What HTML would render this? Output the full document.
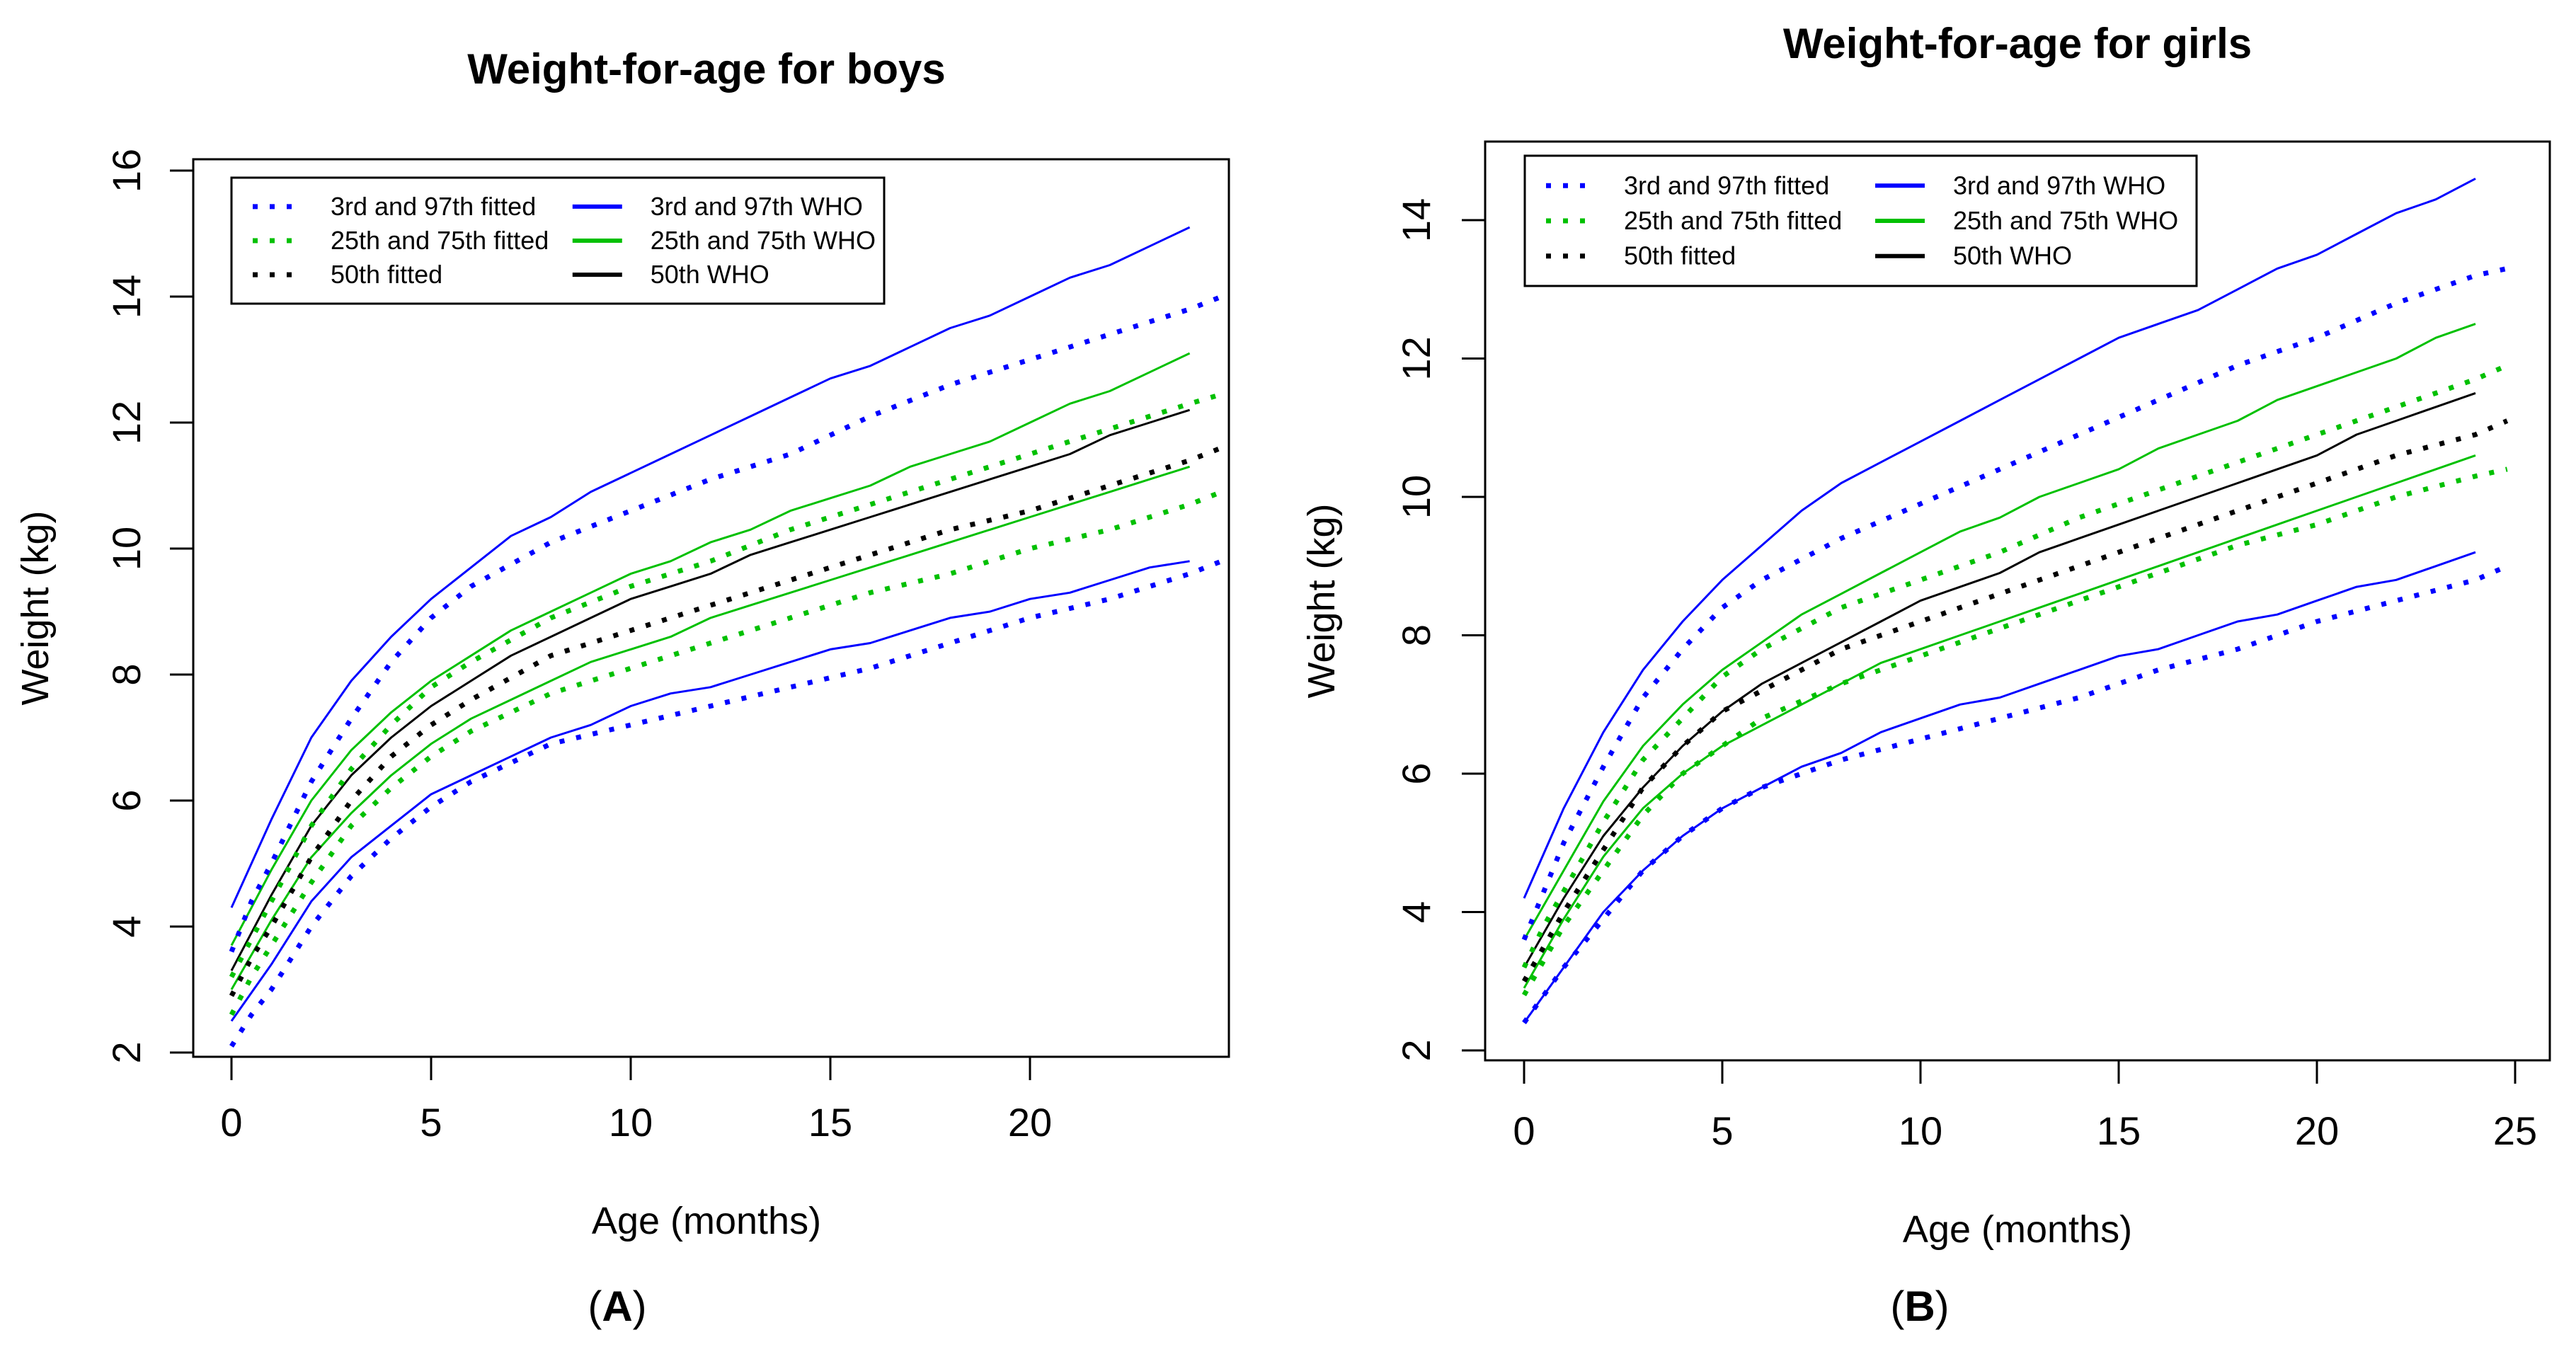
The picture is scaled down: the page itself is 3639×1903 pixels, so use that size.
<!DOCTYPE html>
<html><head><meta charset="utf-8"><style>
html,body{margin:0;padding:0;background:#fff}
svg{display:block}
text{font-family:"Liberation Sans",Arial,sans-serif}
</style></head><body>
<svg id="c" width="3639" height="1903" viewBox="0 0 3639 1903" xmlns="http://www.w3.org/2000/svg"></svg>
<script>
const whoMonths=[0,1,2,3,4,5,6,7,8,9,10,11,12,13,14,15,16,17,18,19,20,21,22,23,24];
const fitMonths=[0,0.5,1,2,3,4,5,6,8,10,12,14,16,18,20,22,24,24.8];
const boysWho3=[2.5,3.4,4.4,5.1,5.6,6.1,6.4,6.7,7.0,7.2,7.5,7.7,7.8,8.0,8.2,8.4,8.5,8.7,8.9,9.0,9.2,9.3,9.5,9.7,9.8];
const boysWho25=[3.0,4.1,5.1,5.8,6.4,6.9,7.3,7.6,7.9,8.2,8.4,8.6,8.9,9.1,9.3,9.5,9.7,9.9,10.1,10.3,10.5,10.7,10.9,11.1,11.3];
const boysWho50=[3.3,4.5,5.6,6.4,7.0,7.5,7.9,8.3,8.6,8.9,9.2,9.4,9.6,9.9,10.1,10.3,10.5,10.7,10.9,11.1,11.3,11.5,11.8,12.0,12.2];
const boysWho75=[3.7,4.9,6.0,6.8,7.4,7.9,8.3,8.7,9.0,9.3,9.6,9.8,10.1,10.3,10.6,10.8,11.0,11.3,11.5,11.7,12.0,12.3,12.5,12.8,13.1];
const boysWho97=[4.3,5.7,7.0,7.9,8.6,9.2,9.7,10.2,10.5,10.9,11.2,11.5,11.8,12.1,12.4,12.7,12.9,13.2,13.5,13.7,14.0,14.3,14.5,14.8,15.1];
const boysFit3=[2.1,2.6,3.0,4.0,4.8,5.4,5.9,6.3,6.9,7.2,7.5,7.8,8.1,8.5,8.9,9.2,9.6,9.8];
const boysFit25=[2.6,3.2,3.7,4.7,5.6,6.2,6.7,7.1,7.7,8.1,8.5,8.9,9.3,9.6,10.0,10.3,10.7,10.9];
const boysFit50=[2.9,3.5,4.0,5.1,6.0,6.7,7.2,7.6,8.3,8.7,9.1,9.5,9.9,10.3,10.6,11.0,11.4,11.6];
const boysFit75=[3.2,3.8,4.4,5.6,6.5,7.2,7.8,8.2,8.9,9.4,9.8,10.3,10.7,11.1,11.5,11.9,12.3,12.45];
const boysFit97=[3.6,4.4,5.0,6.3,7.3,8.2,8.9,9.4,10.1,10.6,11.1,11.5,12.1,12.6,13.0,13.4,13.8,14.0];
const girlsWho3=[2.4,3.2,4.0,4.6,5.1,5.5,5.8,6.1,6.3,6.6,6.8,7.0,7.1,7.3,7.5,7.7,7.8,8.0,8.2,8.3,8.5,8.7,8.8,9.0,9.2];
const girlsWho25=[2.9,3.9,4.8,5.5,6.0,6.4,6.7,7.0,7.3,7.6,7.8,8.0,8.2,8.4,8.6,8.8,9.0,9.2,9.4,9.6,9.8,10.0,10.2,10.4,10.6];
const girlsWho50=[3.2,4.2,5.1,5.8,6.4,6.9,7.3,7.6,7.9,8.2,8.5,8.7,8.9,9.2,9.4,9.6,9.8,10.0,10.2,10.4,10.6,10.9,11.1,11.3,11.5];
const girlsWho75=[3.6,4.6,5.6,6.4,7.0,7.5,7.9,8.3,8.6,8.9,9.2,9.5,9.7,10.0,10.2,10.4,10.7,10.9,11.1,11.4,11.6,11.8,12.0,12.3,12.5];
const girlsWho97=[4.2,5.5,6.6,7.5,8.2,8.8,9.3,9.8,10.2,10.5,10.8,11.1,11.4,11.7,12.0,12.3,12.5,12.7,13.0,13.3,13.5,13.8,14.1,14.3,14.6];
const girlsFit3=[2.4,2.8,3.2,3.9,4.6,5.1,5.5,5.8,6.2,6.5,6.8,7.1,7.5,7.8,8.2,8.5,8.8,9.0];
const girlsFit25=[2.8,3.3,3.8,4.6,5.4,6.0,6.4,6.8,7.3,7.7,8.1,8.5,8.9,9.3,9.6,10.0,10.3,10.4];
const girlsFit50=[3.0,3.5,4.0,4.9,5.8,6.4,6.9,7.2,7.8,8.2,8.6,9.0,9.4,9.8,10.2,10.6,10.9,11.1];
const girlsFit75=[3.2,3.8,4.3,5.3,6.2,6.8,7.4,7.8,8.4,8.8,9.2,9.7,10.1,10.5,10.9,11.3,11.7,11.9];
const girlsFit97=[3.6,4.3,5.0,6.1,7.1,7.8,8.4,8.8,9.4,9.9,10.4,10.9,11.4,11.9,12.3,12.8,13.2,13.3];
const boysXTicks=[0,5,10,15,20];
const girlsXTicks=[0,5,10,15,20,25];
const boysYTicks=[2,4,6,8,10,12,14,16];
const girlsYTicks=[2,4,6,8,10,12,14];
const legendLabels=["3rd and 97th fitted","25th and 75th fitted","50th fitted","3rd and 97th WHO","25th and 75th WHO","50th WHO"];

const svg=document.getElementById('c');
const NS='http://www.w3.org/2000/svg';
function mk(tag,attrs,parent){const e=document.createElementNS(NS,tag);for(const k in attrs)e.setAttribute(k,attrs[k]);(parent||svg).appendChild(e);return e;}
const BLUE='#0000ff',GREEN='#00c000',BLACK='#000000';

function panel(cfg){
  const g=mk('g',{});
  
  
  const xs=m=>cfg.x0+(m-cfg.mx0)*(cfg.x1-cfg.x0)/(cfg.mx1-cfg.mx0);
  const ys=v=>cfg.y0+(v-cfg.vy0)*(cfg.y1-cfg.y0)/(cfg.vy1-cfg.vy0);
  const t=mk('text',{x:cfg.titleX,y:cfg.titleY,'text-anchor':'middle','font-size':60,'font-weight':'bold',fill:'#000'},g);
  t.textContent=cfg.title;
  
  
  const box=mk('rect',{x:cfg.bx0,y:cfg.by0,width:cfg.bx1-cfg.bx0,height:cfg.by1-cfg.by0,fill:'none',stroke:'#000','stroke-width':3},g);
  
  
  const xa=mk('g',{},g);
  
  
  const xt=cfg.xTicks;
  const axY=cfg.by1;
  xt.forEach(v=>{
    mk('line',{x1:xs(v),x2:xs(v),y1:axY,y2:axY+33,stroke:'#000','stroke-width':3},xa);
    const l=mk('text',{x:xs(v),y:cfg.xTickY,'text-anchor':'middle','font-size':56,fill:'#000'},xa);
    l.textContent=v;
    
    
  });
  const xl=mk('text',{x:cfg.titleX,y:cfg.xlabY,'text-anchor':'middle','font-size':54,fill:'#000'},g);
  xl.textContent='Age (months)';
  
  
  const ya=mk('g',{},g);
  
  
  const yt=cfg.yTicks;
  const axX=cfg.bx0;
  yt.forEach(v=>{
    mk('line',{x1:axX,x2:axX-33,y1:ys(v),y2:ys(v),stroke:'#000','stroke-width':3},ya);
    const lx=cfg.yTickX;
    const l=mk('text',{x:lx,y:ys(v),'text-anchor':'middle','font-size':56,fill:'#000',transform:`rotate(-90 ${lx} ${ys(v)})`},ya);
    l.textContent=v;
    
    
  });
  const ylx=cfg.ylabX, yly=(cfg.by0+cfg.by1)/2;
  const yl=mk('text',{x:ylx,y:yly,'text-anchor':'middle','font-size':54,fill:'#000',transform:`rotate(-90 ${ylx} ${yly})`},g);
  yl.textContent='Weight (kg)';
  
  
  function line(months,vals,color,dotted,name){
    const d=months.map((m,i)=>(i?'L':'M')+xs(m).toFixed(1)+','+ys(vals[i]).toFixed(1)).join(' ');
    const p=mk('path',{d:d,fill:'none',stroke:color,'stroke-width':dotted?7:3,'stroke-linejoin':'round'},g);
    if(dotted)p.setAttribute('stroke-dasharray','7 17');
    
    
  }
  const s=cfg.series;
  line(whoMonths,s.w3,BLUE,false,'who-3rd-line');
  line(whoMonths,s.w97,BLUE,false,'who-97th-line');
  line(whoMonths,s.w25,GREEN,false,'who-25th-line');
  line(whoMonths,s.w75,GREEN,false,'who-75th-line');
  line(whoMonths,s.w50,BLACK,false,'who-50th-line');
  line(fitMonths,s.f3,BLUE,true,'fitted-3rd-line');
  line(fitMonths,s.f97,BLUE,true,'fitted-97th-line');
  line(fitMonths,s.f25,GREEN,true,'fitted-25th-line');
  line(fitMonths,s.f75,GREEN,true,'fitted-75th-line');
  line(fitMonths,s.f50,BLACK,true,'fitted-50th-line');
  const L=cfg.leg;
  const lg=mk('g',{},g);
  
  
  mk('rect',{x:L.x0,y:L.y0,width:L.x1-L.x0,height:L.y1-L.y0,fill:'#fff',stroke:'#000','stroke-width':3},lg);
  const rowH=(L.y1-L.y0)/3.7;
  const colors=[BLUE,GREEN,BLACK];
  const colW=(L.x1-L.x0)*0.49;
  legendLabels.forEach((lab,i)=>{
    const col=Math.floor(i/3), row=i%3;
    const lx=L.x0+30+col*colW, ly=L.y0+rowH*(row+0.85);
    const e=mk('g',{},lg);
    
    
    const sl=mk('line',{x1:lx,x2:lx+70,y1:ly,y2:ly,stroke:colors[row],'stroke-width':col?6:7},e);
    if(!col)sl.setAttribute('stroke-dasharray','7 17');
    const tx=mk('text',{x:lx+110,y:ly+12,'font-size':36,fill:'#000'},e);
    tx.textContent=lab;
  });
}

panel({name:'boys-panel',title:'Weight-for-age for boys',titleX:998,titleY:118,xlabY:1743,ylabX:68,xTickY:1605,yTickX:198,
  bx0:273,by0:225,bx1:1736,by1:1493,
  x0:327,x1:1455,mx0:0,mx1:20,y0:1487,y1:241,vy0:2,vy1:16,
  xTicks:boysXTicks,yTicks:boysYTicks,
  leg:{x0:327,y0:251,x1:1249,y1:429},
  series:{w3:boysWho3,w25:boysWho25,w50:boysWho50,w75:boysWho75,w97:boysWho97,f3:boysFit3,f25:boysFit25,f50:boysFit50,f75:boysFit75,f97:boysFit97}});
panel({name:'girls-panel',title:'Weight-for-age for girls',titleX:2850,titleY:82,xlabY:1755,ylabX:1885,xTickY:1617,yTickX:2020,
  bx0:2098,by0:200,bx1:3602,by1:1498,
  x0:2153,x1:3553,mx0:0,mx1:25,y0:1484,y1:311,vy0:2,vy1:14,
  xTicks:girlsXTicks,yTicks:girlsYTicks,
  leg:{x0:2154,y0:220,x1:3103,y1:404},
  series:{w3:girlsWho3,w25:girlsWho25,w50:girlsWho50,w75:girlsWho75,w97:girlsWho97,f3:girlsFit3,f25:girlsFit25,f50:girlsFit50,f75:girlsFit75,f97:girlsFit97}});

const pa=mk('text',{x:872,y:1866,'text-anchor':'middle','font-size':60,'font-family':'Liberation Serif, serif',fill:'#000'});
pa.innerHTML='(<tspan font-weight="bold">A</tspan>)';


const pb=mk('text',{x:2712,y:1866,'text-anchor':'middle','font-size':60,'font-family':'Liberation Serif, serif',fill:'#000'});
pb.innerHTML='(<tspan font-weight="bold">B</tspan>)';


</script>
</body></html>
